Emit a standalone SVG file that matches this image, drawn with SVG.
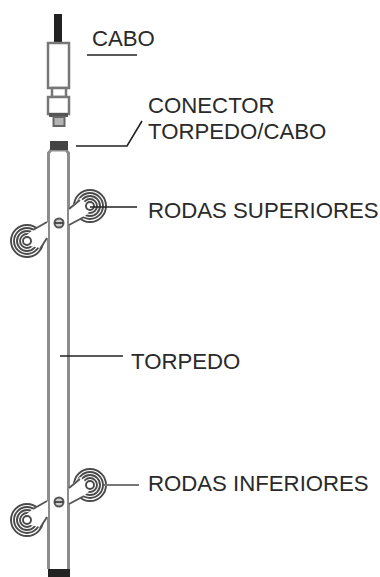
<svg xmlns="http://www.w3.org/2000/svg" width="380" height="577" viewBox="0 0 380 577">
<defs>
<style>
.t{font-family:"Liberation Sans",Arial,sans-serif;font-size:22.2px;fill:#2a2a2a}
.rod{stroke:#8c8c8c;stroke-width:3;fill:#fff}
.g{stroke:#777;stroke-width:2.5;fill:#fff}
.lead{stroke:#222;stroke-width:1.6;fill:none}
.ring{fill:none;stroke:#4a4a4a;stroke-width:1.9}
.arm{stroke:#555;stroke-width:1.9;fill:none}
</style>
<g id="whl">
<circle cx="0" cy="0" r="16" class="ring"/><circle cx="0" cy="0" r="13" class="ring"/><circle cx="0" cy="0" r="10" class="ring"/><circle cx="0" cy="0" r="7" class="ring"/>
</g>
<g id="assembly">
<use href="#whl" x="90" y="0"/><use href="#whl" x="27" y="35"/>
<path d="M69 3L80 -8L86 -3L90 5L84 11L69 19Z" fill="#fff"/>
<path d="M48 16L33 24L23 32L30 40L40 42L48 32Z" fill="#fff"/>
<circle cx="90" cy="0" r="4" class="ring"/><circle cx="27" cy="35" r="4" class="ring"/>
<path class="arm" d="M69 3L80 -6M69 19L84 11"/>
<path class="arm" d="M47 16L33 24M47 32L40 43"/>
<circle cx="59" cy="17" r="4.500" fill="#ccc" stroke="#555" stroke-width="2"/>
<path d="M55 17H63" stroke="#333" stroke-width="1.600"/>
</g>
</defs>
<g id="cabo">
<rect x="54" y="14" width="8" height="29" fill="#222"/>
<rect class="g" x="48" y="43" width="21" height="45"/>
<rect class="g" x="52" y="88" width="14" height="9"/>
<rect class="g" x="48" y="97" width="21" height="17"/>
<rect x="49" y="113" width="19" height="4" fill="#555"/>
<rect x="53.500" y="117" width="11" height="9" fill="#b4b4b4" stroke="#666" stroke-width="2"/>
<text class="t" x="92" y="46">CABO</text>
</g>
<g id="torpedo">
<path class="rod" d="M48.500 569V153L51 150H66L68.500 153V569"/>
<rect x="50" y="141" width="18" height="9" fill="#444"/>
<rect x="48" y="569" width="22" height="8" fill="#222"/>
<text class="t" x="131" y="369">TORPEDO</text>
</g>
<g id="conector">
<text class="t" x="148" y="113">CONECTOR</text>
<text class="t" x="148" y="139">TORPEDO/CABO</text>
</g>
<g id="rodas-superiores">
<use href="#assembly" y="206"/>
<text class="t" x="148" y="218">RODAS SUPERIORES</text>
</g>
<g id="rodas-inferiores">
<use href="#assembly" y="485"/>
<text class="t" x="148" y="491">RODAS INFERIORES</text>
</g>
<g id="connectors">
<path class="lead" d="M87 55H137"/>
<path class="lead" d="M76 146H127L142 121"/>
<path class="lead" d="M90 207H137"/>
<path class="lead" d="M60 356H123"/>
<path d="M104 485H139" stroke="#777" stroke-width="1.800" fill="none"/>
</g>
</svg>
